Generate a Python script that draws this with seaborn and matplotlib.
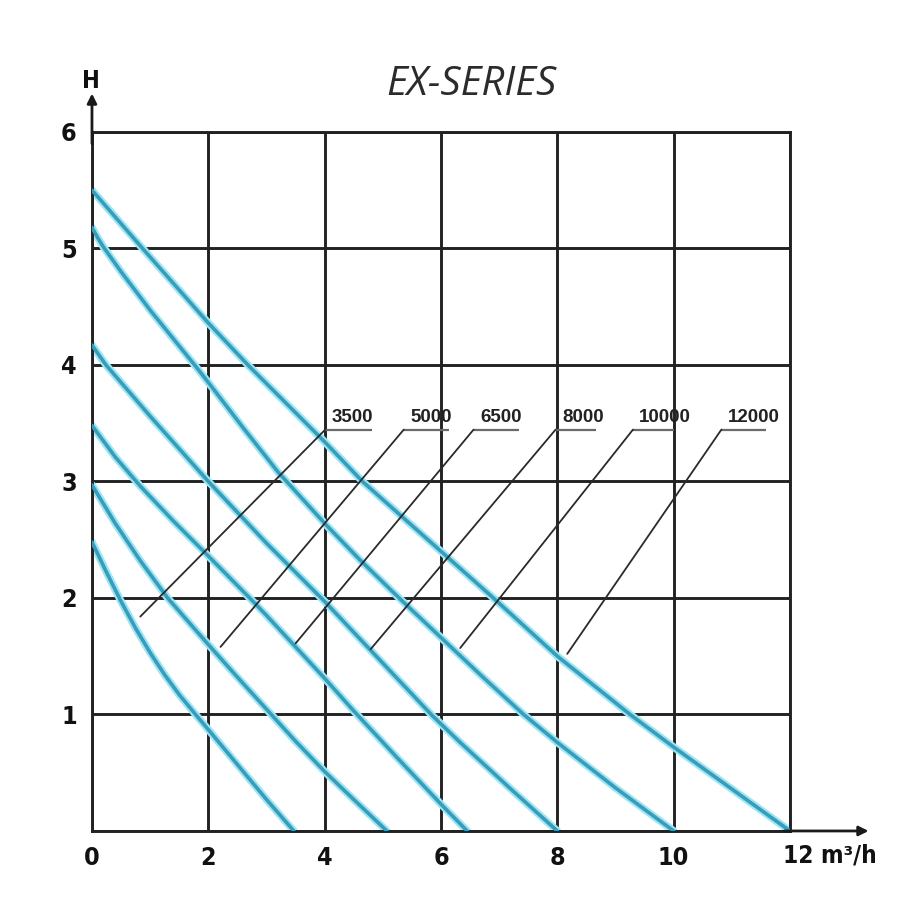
"""
plot.py
-------
EX-SERIES pump curves: head H (m) against flow (m3/h) for six models.
"""

import matplotlib
matplotlib.use("Agg")
import matplotlib.pyplot as plt
import pandas as pd
import seaborn as sns

sns.set_style("white")
plt.rcParams["font.family"] = ["DejaVu Sans"]
plt.rcParams["font.stretch"] = "condensed"

# ── Data ─────────────────────────────────────────────────────────────────────
models = ["3500", "5000", "6500", "8000", "10000", "12000"]

flow_3500 = [0, 0.25, 0.5, 0.75, 1.0, 1.25, 1.5, 1.78, 2.0, 2.5, 3.0, 3.47]
head_3500 = [2.48, 2.22, 1.97, 1.74, 1.53, 1.34, 1.17, 1.0, 0.87, 0.57, 0.27, 0.0]

flow_5000 = [0, 0.4, 0.83, 1.3, 2.0, 2.5, 3.1, 3.5, 4.0, 4.5, 5.07]
head_5000 = [2.97, 2.64, 2.32, 2.0, 1.6, 1.32, 0.99, 0.77, 0.51, 0.27, 0.0]

flow_6500 = [0, 0.4, 0.83, 1.4, 2.0, 2.75, 3.0, 3.5, 4.0, 4.5, 5.3, 6.0, 6.45]
head_6500 = [3.48, 3.21, 2.96, 2.66, 2.36, 1.98, 1.85, 1.58, 1.31, 1.03, 0.6, 0.23, 0.0]

flow_8000 = [0, 0.24, 1.0, 2.0, 3.0, 4.0, 5.0, 5.85, 6.33, 7.2, 8.0]
head_8000 = [4.17, 4.0, 3.56, 3.0, 2.47, 1.97, 1.44, 0.99, 0.76, 0.36, 0.0]

flow_10000 = [0, 0.1, 0.2, 0.5, 1.0, 1.78, 2.0, 2.6, 3.2, 4.0, 4.6, 5.3,
              6.0, 6.7, 7.42, 8.0, 9.0, 10.0]
head_10000 = [5.18, 5.09, 5.01, 4.8, 4.47, 3.99, 3.85, 3.46, 3.08, 2.64, 2.33, 1.99,
              1.66, 1.33, 1.0, 0.76, 0.37, 0.0]

flow_12000 = [0, 0.87, 2.0, 2.7, 4.0, 4.65, 6.0, 6.9, 8.0, 9.25, 10.0, 11.0, 12.0]
head_12000 = [5.5, 5.0, 4.36, 3.99, 3.34, 3.0, 2.4, 2.0, 1.5, 1.0, 0.72, 0.36, 0.0]

x_ticks = [0, 2, 4, 6, 8, 10, 12]
x_tick_labels = ["0", "2", "4", "6", "8", "10", ""]
y_ticks = [0, 1, 2, 3, 4, 5, 6]
y_tick_labels = ["", "1", "2", "3", "4", "5", "6"]

# leader lines: label anchor (underline start/end) and the point it points to
label_start = [4.01, 5.36, 6.56, 7.97, 9.30, 10.82]
label_end = [4.82, 6.13, 7.34, 8.66, 10.0, 11.58]
label_h = 3.445
tip_flow = [0.83, 2.21, 3.50, 4.79, 6.33, 8.17]
tip_head = [1.84, 1.58, 1.61, 1.56, 1.57, 1.52]

curves = {
    "3500": (flow_3500, head_3500),
    "5000": (flow_5000, head_5000),
    "6500": (flow_6500, head_6500),
    "8000": (flow_8000, head_8000),
    "10000": (flow_10000, head_10000),
    "12000": (flow_12000, head_12000),
}
df = pd.concat(
    [pd.DataFrame({"flow": q, "head": h, "model": m}) for m, (q, h) in curves.items()],
    ignore_index=True,
)

# ── Figure ────────────────────────────────────────────────────────────────────
fig = plt.figure(figsize=(9, 9), dpi=100)
ax = fig.add_axes([0.1022, 0.0767, 0.7756, 0.7767])

ax.set_xlim(0, 12)
ax.set_ylim(0, 6)
ax.set_xticks(x_ticks)
ax.set_xticklabels(x_tick_labels)
ax.set_yticks(y_ticks)
ax.set_yticklabels(y_tick_labels)
ax.grid(True, color="#222222", lw=2.1, zorder=1)
ax.set_axisbelow(True)
for sp in ax.spines.values():
    sp.set_color("#222222")
    sp.set_linewidth(2.1)
ax.tick_params(length=0, labelsize=18, pad=11, labelcolor="#111")
for lab in ax.get_xticklabels() + ax.get_yticklabels():
    lab.set_fontweight("bold")

# curves: soft cyan halo + teal core
sns.lineplot(data=df, x="flow", y="head", units="model", estimator=None,
             sort=False, color="#9be6f5", lw=5.5, legend=False, ax=ax, zorder=2)
sns.lineplot(data=df, x="flow", y="head", units="model", estimator=None,
             sort=False, color="#3a9cb8", lw=2.6, legend=False, ax=ax, zorder=3)
ax.set_xlabel("")
ax.set_ylabel("")

# model labels with underline and leader
for name, x0, x1, tx, ty in zip(models, label_start, label_end, tip_flow, tip_head):
    ax.plot([x0, x1], [label_h, label_h], color="#6a6a6a", lw=1.6,
            solid_capstyle="butt", zorder=4)
    ax.plot([tx, x0], [ty, label_h], color="#2a2a2a", lw=1.3, zorder=4)
    ax.text(x0 + 0.11, label_h + 0.035, name, ha="left", va="bottom",
            fontsize=13.5, fontweight="bold", family=["Liberation Sans", "DejaVu Sans"],
            fontstretch="normal", color="#222", zorder=5)

# axis arrows
ax.annotate("", xy=(0, 6.33), xytext=(0, 5.9), annotation_clip=False,
            arrowprops=dict(arrowstyle="-|>", lw=2.0, color="#1a1a1a",
                            mutation_scale=14, shrinkA=0, shrinkB=0))
ax.annotate("", xy=(13.35, 0), xytext=(11.9, 0), annotation_clip=False,
            arrowprops=dict(arrowstyle="-|>", lw=2.0, color="#1a1a1a",
                            mutation_scale=14, shrinkA=0, shrinkB=0))

ax.text(11.88, -0.21, "12 m³/h", ha="left", va="center", fontsize=17.5,
        fontweight="bold", color="#111", clip_on=False)
fig.text(0.101, 0.91, "H", ha="center", va="center", fontsize=17,
         fontweight="bold", color="#111")
fig.text(0.524, 0.906, "EX-SERIES", ha="center", va="center", fontsize=29,
         style="italic", fontweight="normal", family=["Open Sans", "DejaVu Sans"],
         fontstretch="normal", color="#2b2b2b")

fig.savefig("out.png", dpi=100)
